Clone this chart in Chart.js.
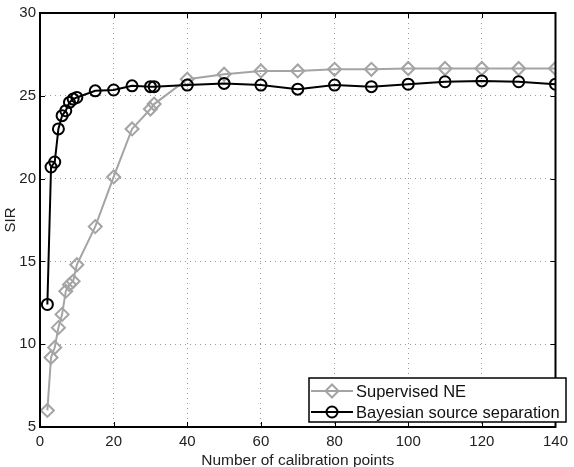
<!DOCTYPE html>
<html>
<head>
<meta charset="utf-8">
<script src="https://cdn.jsdelivr.net/npm/chart.js@4.4.0/dist/chart.umd.min.js"></script>
<style>
  html, body { margin: 0; padding: 0; background: #fff; }
  #wrap { width: 574px; height: 467px; }
</style>
</head>
<body>
<div id="wrap"><canvas id="sirChart"></canvas></div>
<script>
// number of calibration points
const calibPoints = [2, 3, 4, 5, 6, 7, 8, 9, 10, 15, 20, 25, 30, 31, 40, 50, 60, 70, 80, 90, 100, 110, 120, 130, 140];
const supervisedNE = [6.0, 9.2, 9.8, 11.0, 11.8, 13.2, 13.6, 13.8, 14.8, 17.1, 20.1, 23.0, 24.2, 24.5, 26.0, 26.3, 26.5, 26.5, 26.6, 26.6, 26.65, 26.65, 26.65, 26.65, 26.65];
const bayesianSep = [12.4, 20.7, 21.0, 23.0, 23.8, 24.1, 24.6, 24.8, 24.9, 25.3, 25.35, 25.6, 25.55, 25.55, 25.65, 25.75, 25.65, 25.4, 25.65, 25.55, 25.7, 25.85, 25.9, 25.85, 25.7];
const seriesNames = ['Supervised NE', 'Bayesian source separation'];
const xTicks = [0, 20, 40, 60, 80, 100, 120, 140];
const yTicks = [5, 10, 15, 20, 25, 30];

const FONT = '"Liberation Sans", Arial, sans-serif';
const GREY = '#a4a4a4';

function toPoints(ys) {
    return calibPoints.map((x, i) => ({ x: x, y: ys[i] }));
}

// matlab style box: full frame, inward ticks, legend inside bottom right
const matlabBox = {
    id: 'matlabBox',
    afterDraw(chart) {
        const ctx = chart.ctx;
        const a = chart.chartArea;
        const xs = chart.scales.x, ys = chart.scales.y;
        ctx.save();
        ctx.strokeStyle = '#000';
        ctx.lineWidth = 2;
        ctx.strokeRect(a.left, a.top, a.right - a.left, a.bottom - a.top);
        ctx.lineWidth = 1;
        ctx.beginPath();
        xTicks.forEach(v => {
            const px = Math.round(xs.getPixelForValue(v)) + 0.5;
            ctx.moveTo(px, a.bottom); ctx.lineTo(px, a.bottom - 5);
            ctx.moveTo(px, a.top); ctx.lineTo(px, a.top + 5);
        });
        yTicks.forEach(v => {
            const py = Math.round(ys.getPixelForValue(v)) + 0.5;
            ctx.moveTo(a.left, py); ctx.lineTo(a.left + 5, py);
            ctx.moveTo(a.right, py); ctx.lineTo(a.right - 5, py);
        });
        ctx.stroke();

        // legend
        const bx = 309, by = 378, bw = 257, bh = 44;
        ctx.fillStyle = '#fff';
        ctx.fillRect(bx, by, bw, bh);
        ctx.lineWidth = 1.5;
        ctx.strokeStyle = '#000';
        ctx.strokeRect(bx, by, bw, bh);
        ctx.font = '16.5px ' + FONT;
        ctx.textBaseline = 'middle';
        chart.data.datasets.forEach((ds, i) => {
            const ly = by + 13 + i * 21;
            ctx.strokeStyle = ds.borderColor;
            ctx.lineWidth = 2;
            ctx.beginPath();
            ctx.moveTo(bx + 2, ly); ctx.lineTo(bx + 44, ly);
            ctx.stroke();
            ctx.fillStyle = 'rgba(0,0,0,0)';
            Chart.helpers.drawPoint(ctx, {
                pointStyle: ds.pointStyle, radius: ds.pointRadius,
                borderWidth: ds.pointBorderWidth, rotation: 0
            }, bx + 23, ly);
            ctx.fillStyle = '#111';
            ctx.fillText(ds.label, bx + 47, ly + 1);
        });
        ctx.restore();
    }
};

new Chart(document.getElementById('sirChart'), {
    type: 'line',
    data: {
        datasets: [{
            label: seriesNames[0],
            data: toPoints(supervisedNE),
            borderColor: GREY,
            borderWidth: 2,
            pointStyle: 'rectRot',
            pointRadius: 6.5,
            pointBorderWidth: 2,
            pointBorderColor: GREY,
            pointBackgroundColor: 'rgba(0,0,0,0)',
            order: 1
        }, {
            label: seriesNames[1],
            data: toPoints(bayesianSep),
            borderColor: '#000',
            borderWidth: 2,
            pointStyle: 'circle',
            pointRadius: 5.5,
            pointBorderWidth: 2,
            pointBorderColor: '#000',
            pointBackgroundColor: 'rgba(0,0,0,0)',
            order: 0
        }]
    },
    options: {
        responsive: true,
        maintainAspectRatio: false,
        animation: false,
        layout: { padding: { top: 10, right: 7, left: 0, bottom: 0 } },
        plugins: {
            legend: { display: false },
            tooltip: { enabled: false }
        },
        scales: {
            x: {
                type: 'linear',
                min: 0, max: 140,
                afterFit(scale) { scale.height = 40; },
                afterBuildTicks(scale) { scale.ticks = xTicks.map(v => ({ value: v })); },
                grid: { color: '#9a9a9a', lineWidth: 1, drawTicks: false },
                border: { display: false, dash: [1, 4] },
                ticks: { padding: 6, color: '#222', font: { family: FONT, size: 15 } },
                title: {
                    display: true, text: 'Number of calibration points',
                    color: '#222', font: { family: FONT, size: 15.5 }, padding: { top: 0, bottom: -3 }
                }
            },
            y: {
                min: 5, max: 30,
                afterFit(scale) { scale.width = 40; },
                afterBuildTicks(scale) { scale.ticks = yTicks.map(v => ({ value: v })); },
                grid: { color: '#9a9a9a', lineWidth: 1, drawTicks: false },
                border: { display: false, dash: [1, 4] },
                ticks: { padding: 4, color: '#222', font: { family: FONT, size: 15 } },
                title: {
                    display: true, text: 'SIR',
                    color: '#222', font: { family: FONT, size: 15 }, padding: { top: 2, bottom: 0 }
                }
            }
        }
    },
    plugins: [matlabBox]
});
</script>
</body>
</html>
